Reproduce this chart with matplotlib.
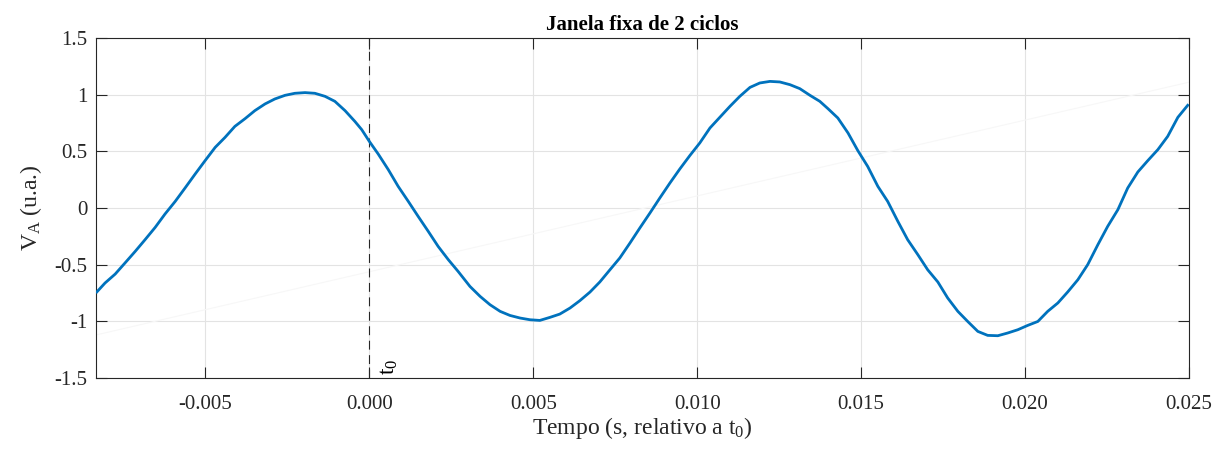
import numpy as np
import matplotlib
matplotlib.use("Agg")
import matplotlib.pyplot as plt

# waveform (time relative to t0, seconds)
t = [-0.00831, -0.00806, -0.00775, -0.00745, -0.00714, -0.00684, -0.00653, -0.00623,
     -0.00592, -0.00562, -0.00531, -0.00501, -0.00470, -0.00440, -0.00410, -0.00379,
     -0.00349, -0.00318, -0.00288, -0.00257, -0.00227, -0.00196, -0.00166, -0.00135,
     -0.00105, -0.00074, -0.00044, -0.00023, 0.00000, 0.00027, 0.00058, 0.00088,
     0.00119, 0.00149, 0.00180, 0.00210, 0.00241, 0.00271,
     0.00307, 0.00338, 0.00368, 0.00399, 0.00429, 0.00460, 0.00490, 0.00520,
     0.00551, 0.00581, 0.00612, 0.00642, 0.00673, 0.00703, 0.00734, 0.00764,
     0.00795, 0.00825, 0.00856, 0.00886, 0.00917, 0.00947, 0.00978, 0.01008,
     0.01039, 0.01069, 0.01100, 0.01130, 0.01161, 0.01191, 0.01222, 0.01252,
     0.01283, 0.01313, 0.01344, 0.01374,
     0.01399, 0.01429, 0.01460, 0.01490, 0.01520, 0.01551, 0.01581, 0.01612,
     0.01642, 0.01673, 0.01703, 0.01734, 0.01764, 0.01795, 0.01825, 0.01856,
     0.01886, 0.01917, 0.01947, 0.01978, 0.02008, 0.02039, 0.02069, 0.02100,
     0.02130, 0.02161, 0.02191, 0.02222, 0.02252, 0.02283, 0.02313, 0.02344,
     0.02374, 0.02405, 0.02435, 0.02466, 0.02496]
va = [-0.741, -0.662, -0.583, -0.485, -0.383, -0.280, -0.171, -0.053,
      0.058, 0.176, 0.300, 0.417, 0.535, 0.623, 0.720, 0.788,
      0.859, 0.918, 0.962, 0.994, 1.012, 1.018, 1.012, 0.985,
      0.941, 0.859, 0.764, 0.691, 0.588, 0.477, 0.338, 0.191,
      0.058, -0.074, -0.207, -0.339, -0.456, -0.560,
      -0.692, -0.780, -0.853, -0.912, -0.948, -0.971, -0.986, -0.992,
      -0.965, -0.936, -0.883, -0.818, -0.742, -0.653, -0.545, -0.441,
      -0.309, -0.177, -0.044, 0.088, 0.221, 0.344, 0.464, 0.574,
      0.706, 0.800, 0.897, 0.985, 1.064, 1.103, 1.117, 1.112,
      1.088, 1.053, 0.994, 0.941,
      0.876, 0.794, 0.662, 0.506, 0.367, 0.191, 0.058, -0.118,
      -0.280, -0.412, -0.545, -0.653, -0.794, -0.912, -1.001, -1.089,
      -1.124, -1.127, -1.103, -1.074, -1.036, -1.001, -0.912, -0.838,
      -0.741, -0.633, -0.500, -0.324, -0.162, -0.015, 0.176, 0.318,
      0.417, 0.515, 0.632, 0.800, 0.906]

# faint straight line in the background
trend_t = [-0.00833, 0.025]
trend_v = [-1.12, 1.11]

xticks = [-0.005, 0.000, 0.005, 0.010, 0.015, 0.020, 0.025]
yticks = [-1.5, -1, -0.5, 0, 0.5, 1, 1.5]

plt.rcParams['font.family'] = ['Liberation Serif', 'DejaVu Serif']
plt.rcParams['mathtext.fontset'] = 'stix'

fig = plt.figure(figsize=(12.19, 4.5), dpi=100)
ax = fig.add_axes([0.0788, 0.16, 0.8966, 0.7556])

ax.plot(trend_t, trend_v, color='#f7f7f7', lw=0.8, zorder=1)
ax.plot(t, va, color='#0072BD', lw=2.0, zorder=3, solid_joinstyle='round')
ax.axvline(0, color='#262626', lw=0.8, ls=(0, (8, 5)), zorder=2)
ax.text(0.0003, -1.47, r'$\mathregular{t_0}$', rotation=90, ha='left', va='bottom',
        fontsize=17, color='#000000')

ax.set_xlim(-1/120, 0.025)
ax.set_ylim(-1.5, 1.5)
ax.set_xticks(xticks)
ax.set_xticklabels([f"{v:.3f}" for v in xticks])
ax.set_yticks(yticks)
ax.set_yticklabels([f"{v:g}" for v in yticks])

ax.grid(True, color='#e3e3e3', lw=0.8)
ax.set_axisbelow(True)
ax.tick_params(direction='in', top=True, right=True, length=8, width=0.8,
               colors='#262626', labelsize=15, labelcolor='#262626')
ax.tick_params(axis='x', pad=12)
ax.tick_params(axis='y', pad=6)
for s in ax.spines.values():
    s.set_color('#262626')
    s.set_linewidth(0.8)

ax.set_title('Janela fixa de 2 ciclos', fontsize=15, fontweight='bold', pad=6)
ax.set_xlabel(r'Tempo (s, relativo a $\mathregular{t_0}$)', fontsize=17, color='#262626', labelpad=1)
ax.set_ylabel(r'V$\mathregular{_A}$ (u.a.)', fontsize=17, color='#262626', labelpad=8)

fig.savefig('out.png', dpi=100)
